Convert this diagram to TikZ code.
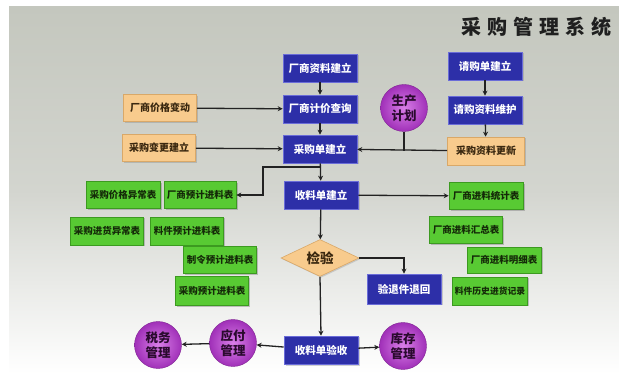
\documentclass[tikz,border=0pt]{standalone}
\usepackage{fontspec}
\newfontfamily\cjk{Noto Sans CJK SC}
\usetikzlibrary{shapes.geometric,shadows,arrows.meta}
\definecolor{bggray}{HTML}{C4C7BE}
\definecolor{bgmid}{HTML}{D3D5CF}
\definecolor{boxblue}{HTML}{2D2FA8}
\definecolor{boxblueedge}{HTML}{6A6CD8}
\definecolor{boxgreen}{HTML}{58CA33}
\definecolor{greenedge}{HTML}{3C9A20}
\definecolor{greentext}{HTML}{142A08}
\definecolor{boxorange}{HTML}{F8CB8D}
\definecolor{orangeedge}{HTML}{D9A868}
\definecolor{orangetext}{HTML}{3A2810}
\definecolor{purpin}{HTML}{D97FE8}
\definecolor{purpout}{HTML}{A030B8}
\definecolor{purptext}{HTML}{2A0A2E}
\definecolor{linecol}{HTML}{222222}
\begin{document}
\begin{tikzpicture}[x=1pt,y=-1pt,
  bluebox/.style={rectangle, fill=boxblue, draw=boxblueedge, line width=0.6pt,
    minimum width=74pt, minimum height=28pt, inner sep=0pt,
    text=white, font=\cjk\bfseries\fontsize{10.5}{12}\selectfont,
    drop shadow={shadow xshift=1.5pt, shadow yshift=-1.5pt, opacity=0.35}},
  greenbox/.style={rectangle, fill=boxgreen, draw=greenedge, line width=0.6pt,
    minimum width=73pt, minimum height=27pt, inner sep=0pt,
    text=greentext, font=\cjk\bfseries\fontsize{9.5}{11}\selectfont,
    drop shadow={shadow xshift=1.5pt, shadow yshift=-1.5pt, opacity=0.45}},
  orangebox/.style={rectangle, fill=boxorange, draw=orangeedge, line width=0.6pt,
    minimum width=73pt, minimum height=27pt, inner sep=0pt,
    text=orangetext, font=\cjk\bfseries\fontsize{10}{11}\selectfont,
    drop shadow={shadow xshift=1.5pt, shadow yshift=-1.5pt, opacity=0.35}},
  ball/.style={circle, inner color=purpin, outer color=purpout, draw=purpout!80!black,
    line width=0.4pt, minimum size=47pt, inner sep=0pt, align=center,
    text=purptext, font=\cjk\bfseries\fontsize{12.5}{15}\selectfont},
  checkbox/.style={diamond, fill=boxorange, draw=orangeedge, line width=0.6pt,
    minimum width=78pt, minimum height=37pt, inner sep=0pt, aspect=2.1,
    text=orangetext, font=\cjk\bfseries\fontsize{13.5}{15}\selectfont,
    drop shadow={shadow xshift=1.2pt, shadow yshift=-1.2pt, opacity=0.3}},
  arr/.style={draw=linecol, line width=1.3pt, -{Stealth[length=5pt,width=5pt]}},
  plain/.style={draw=linecol, line width=1.3pt}
]
\useasboundingbox (0,0) rectangle (619,374);
\fill[white] (0,0) rectangle (619,374);
\shade[top color=bggray, bottom color=white, middle color=bgmid] (9,7) rectangle (619,374);

% title
\node[font=\cjk\bfseries\fontsize{20}{22}\selectfont, text=black!88] (title) at (536,27)
  {采\hspace{6pt}购\hspace{6pt}管\hspace{6pt}理\hspace{6pt}系\hspace{6pt}统};

% blue process boxes
\node[bluebox] (s1) at (320,68) {厂商资料建立};
\node[bluebox] (s2) at (320,109) {厂商计价查询};
\node[bluebox] (po) at (320,149) {采购单建立};
\node[bluebox] (r1) at (485,66) {请购单建立};
\node[bluebox] (r2) at (485,110) {请购资料维护};
\node[bluebox] (rc) at (321,195) {收料单建立};
\node[bluebox, minimum height=30pt] (vrt) at (404,289) {验退件退回};
\node[bluebox] (acc) at (321,350) {收料单验收};

% orange boxes
\node[orangebox] (o1) at (160,108) {厂商价格变动};
\node[orangebox] (o2) at (159,148) {采购变更建立};
\node[orangebox, minimum width=77pt, minimum height=28pt] (o3) at (486,151) {采购资料更新};

% circles
\node[ball] (c1) at (404,108) {生产\\计划};
\node[ball] (c2) at (158,345) {税务\\管理};
\node[ball] (c3) at (233,343) {应付\\管理};
\node[ball] (c4) at (403,346) {库存\\管理};

% diamond
\node[checkbox] (chk) at (320,258) {检验};

% green reports
\node[greenbox, minimum width=74pt] (g1) at (123,195) {采购价格异常表};
\node[greenbox, minimum width=72pt] (g2) at (200,195) {厂商预计进料表};
\node[greenbox, minimum height=28pt] (g3) at (107,231) {采购进货异常表};
\node[greenbox, minimum height=28pt] (g4) at (187,231) {料件预计进料表};
\node[greenbox] (g5) at (220,260) {制令预计进料表};
\node[greenbox, minimum height=29pt] (g6) at (212,291) {采购预计进料表};
\node[greenbox, minimum width=74pt] (gr1) at (486,196) {厂商进料统计表};
\node[greenbox] (gr2) at (466,230) {厂商进料汇总表};
\node[greenbox, minimum width=74pt, minimum height=26pt] (gr3) at (504,260) {厂商进料明细表};
\node[greenbox, minimum width=75pt, minimum height=28pt, font=\cjk\bfseries\fontsize{8.8}{10}\selectfont] (gr4) at (490,291) {料件历史进货记录};

% connectors
\draw[arr] (s1) -- (s2);
\draw[arr] (s2) -- (po);
\draw[arr] (o1) -- (s2);
\draw[arr] (o2) -- (po);
\draw[arr] (r1) -- (r2);
\draw[arr] (r2) -- (o3);
\draw[arr] (o3) -- (po);
\draw[plain] (c1.south) -- (c1.south |- o3.west);
\draw[arr] (po) -- (rc);
\coordinate (branch) at (320,167);
\coordinate (bend) at (263,167);
\draw[arr] (branch) -- (bend) |- (g2.east);
\draw[arr] (rc) -- (gr1);
\draw[arr] (rc) -- (chk);
\draw[arr] (chk.east) -| (vrt.north);
\draw[arr] (chk.south) -- (acc.north);
\draw[arr] (acc) -- (c3);
\draw[arr] (c3) -- (c2);
\draw[arr] (acc) -- (c4);
\end{tikzpicture}
\end{document}
